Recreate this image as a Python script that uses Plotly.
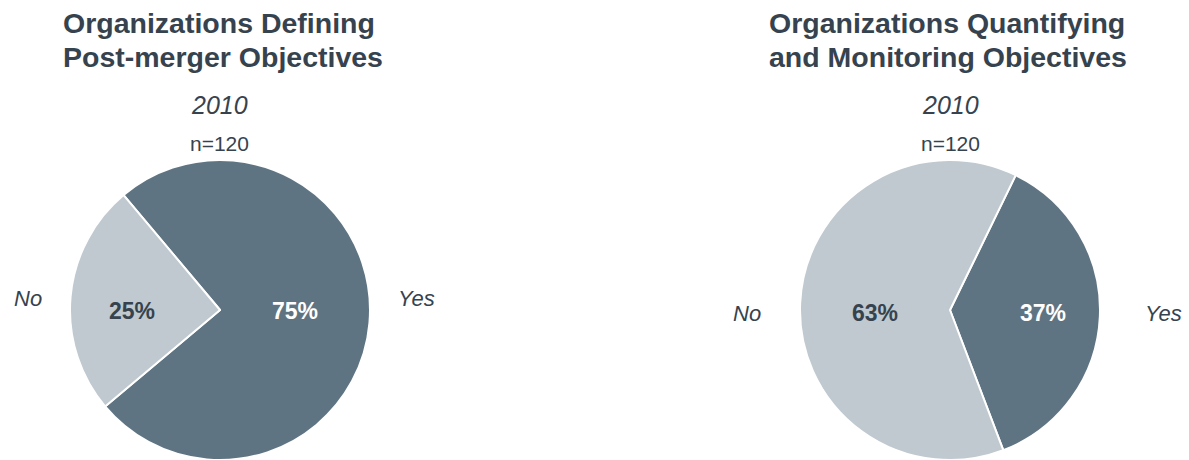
import plotly.graph_objects as go

# Data
labels = ["Yes", "No"]
defining_values = [75, 25]
quantifying_values = [37, 63]
title_lines = [["Organizations Defining", "Post-merger Objectives"],
               ["Organizations Quantifying", "and Monitoring Objectives"]]
year = "2010"
n_label = "n=120"

W, H = 1189, 460
DARK = "#5f7482"
LIGHT = "#bfc9cf"
TEXT = "#36434e"
FONT = "Liberation Sans, Arial, sans-serif"

fig = go.Figure()

def add_pie(values, cx, rotation):
    r = 150
    fig.add_trace(go.Pie(
        labels=labels,
        values=values,
        sort=False,
        direction="clockwise",
        rotation=rotation,
        marker=dict(colors=[DARK, LIGHT], line=dict(color="white", width=2)),
        textinfo="none",
        domain=dict(x=[(cx - r) / W, (cx + r) / W], y=[0, 2 * r / H]),
        showlegend=False,
        hoverinfo="label+percent",
    ))

add_pie(defining_values, 220, -40)
add_pie(quantifying_values, 950, 26)

def ann(x, y, text, size, bold=False, italic=False, color=TEXT, xanchor="center"):
    t = f"<b>{text}</b>" if bold else text
    t = f"<i>{t}</i>" if italic else t
    fig.add_annotation(x=x / W, y=1 - y / H, xref="paper", yref="paper",
                       text=t, showarrow=False, xanchor=xanchor, yanchor="middle",
                       borderpad=0,
                       font=dict(size=size, color=color, family=FONT))

for (lx, cx), lines in zip([(62, 220), (768, 950)], title_lines):
    ann(lx, 23, lines[0], 28.5, bold=True, xanchor="left")
    ann(lx, 57, lines[1], 28.5, bold=True, xanchor="left")
    ann(cx, 105, year, 25, italic=True)
    ann(cx, 143, n_label, 21)

# percentage labels
ann(132, 311, f"{defining_values[1]}%", 23, bold=True)
ann(295, 311, f"{defining_values[0]}%", 23, bold=True, color="white")
ann(875, 313, f"{quantifying_values[1]}%", 23, bold=True)
ann(1043, 313, f"{quantifying_values[0]}%", 23, bold=True, color="white")

# category labels
ann(28, 298, labels[1], 22, italic=True)
ann(416, 298, labels[0], 22, italic=True)
ann(747, 313, labels[1], 22, italic=True)
ann(1163, 313, labels[0], 22, italic=True)

fig.update_layout(
    width=W, height=H,
    margin=dict(l=0, r=0, t=0, b=0),
    paper_bgcolor="white", plot_bgcolor="white",
    font=dict(family=FONT, color=TEXT),
)

fig.write_html("out.html")
